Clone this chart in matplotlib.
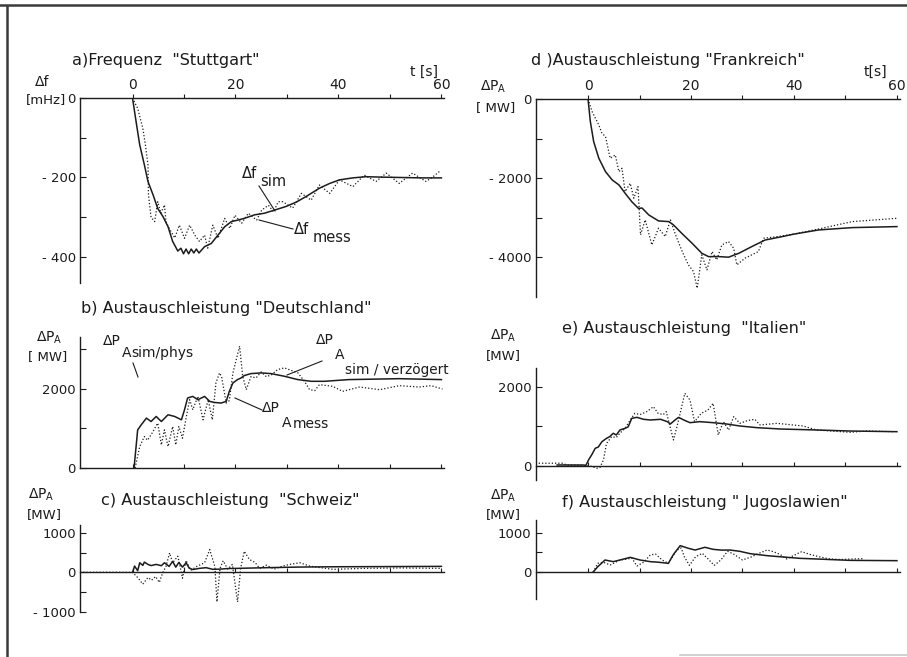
import matplotlib
matplotlib.use('Agg')
import matplotlib.pyplot as plt
from matplotlib.lines import Line2D

W, H = 907, 657
INK = '#1c1c1c'

# a) Frequenz "Stuttgart"  (mHz)
a_sim_t = [0, 0.7, 1.4, 2.3, 3.0, 4.0, 4.9, 5.9, 6.9, 7.8, 8.8, 9.4, 9.9, 10.4, 10.9, 11.4, 11.9, 12.4, 12.9,
           14.0, 15.3, 16.6, 17.9, 19.2, 20.5, 21.7, 23.7, 25.6, 27.6, 29.8, 31.8, 33.7, 36.3, 38.3, 40.2, 42.8,
           45.4, 48, 52, 56, 60]
a_sim = [0, -60, -118, -168, -210, -244, -278, -298, -324, -361, -385, -378, -392, -380, -392, -380, -390, -380,
         -390, -374, -366, -345, -324, -311, -307, -303, -294, -290, -282, -273, -262, -248, -227, -215, -206,
         -201, -198, -199, -200, -201, -201]
a_mess_t = [0, 1.0, 2.0, 2.5, 3.0, 3.1, 3.6, 4.3, 4.9, 5.5, 6.2, 6.5, 7.2, 8.2, 9.1, 10.1, 11.1, 12.1, 13.0, 14.0,
            14.6, 15.6, 16.6, 17.9, 18.9, 19.9, 21.2, 22.5, 24.1, 25.1, 26.4, 27.4, 28.3, 29.2, 31.1, 32.8, 34.7,
            36.3, 38.3, 40.2, 42.8, 45.0, 47.3, 49.3, 51.8, 54.4, 57.0, 58.2, 59.6]
a_mess = [0, -26, -76, -118, -168, -244, -300, -311, -261, -290, -269, -311, -330, -352, -320, -353, -320, -345,
          -361, -345, -378, -320, -353, -303, -328, -295, -315, -290, -307, -282, -270, -286, -261, -261, -277,
          -240, -257, -219, -240, -206, -223, -194, -210, -189, -215, -189, -210, -200, -185]

# b) Austauschleistung "Deutschland"  (MW)
b_sim_t = [0.3, 1.0, 1.7, 2.7, 3.6, 4.6, 5.6, 6.9, 8.2, 9.5, 10.1, 10.7, 11.7, 12.7, 14.0, 15.0, 15.9, 17.2, 18.2,
           18.8, 19.5, 20.4, 21.1, 21.7, 23.0, 25.0, 26.9, 29.5, 32.1, 34.7, 37.3, 42, 51.8, 60]
b_sim = [0, 961, 1088, 1257, 1171, 1298, 1171, 1341, 1298, 1214, 1467, 1763, 1804, 1720, 1804, 1678, 1652, 1636,
         1678, 1930, 2143, 2227, 2270, 2328, 2378, 2395, 2378, 2311, 2227, 2184, 2184, 2227, 2250, 2227]
b_mess_t = [0.5, 1.4, 2.3, 2.9, 3.6, 4.9, 5.6, 6.2, 6.9, 7.8, 8.4, 9.0, 9.7, 10.4, 11.1, 11.7, 12.7, 13.7, 14.7,
            15.5, 16.2, 16.9, 17.3, 18.2, 18.8, 19.5, 20.8, 21.4, 22.1, 23.0, 24.0, 25.0, 26.0, 27.0, 28.2, 29.5,
            30.8, 32.1, 33.4, 34.4, 35.4, 36.3, 38.9, 40.8, 44.1, 48.0, 51.8, 55.7, 58.0, 60.2]
b_mess = [0, 540, 793, 700, 835, 1130, 582, 961, 540, 1045, 582, 1045, 750, 1257, 1720, 1467, 1804, 1214, 1720,
          1214, 2143, 2396, 2300, 1636, 1700, 2396, 3069, 2311, 1973, 2300, 2270, 2420, 2300, 2350, 2480, 2522,
          2460, 2400, 2184, 1973, 1950, 2100, 2057, 1930, 2040, 1973, 2074, 2040, 2074, 1990]

# c) Austauschleistung "Schweiz"  (MW)
c_sim_t = [0, 0.4, 1.0, 1.4, 2.0, 2.3, 3.0, 3.6, 4.6, 5.6, 6.2, 7.1, 7.8, 8.4, 9.0, 9.7, 10.4, 11.0, 11.7, 13.0,
           14.3, 15.6, 16.9, 18.5, 20.5, 26.0, 32.5, 39.0, 50, 60]
c_sim = [0, 158, 40, 242, 175, 258, 200, 170, 200, 167, 242, 150, 275, 130, 250, 130, 242, 108, 70, 100, 117, 75,
         80, 95, 100, 117, 133, 140, 145, 150]
c_mess_t = [-10.2, -0.5, 0, 1.0, 2.0, 3.0, 3.7, 4.5, 5.2, 5.9, 6.5, 7.2, 7.8, 8.8, 9.4, 9.7, 10.4, 11.3, 12.5,
            14.0, 15.0, 16.0, 16.4, 17.0, 17.6, 18.5, 19.4, 20.4, 21.0, 21.7, 22.7, 23.8, 24.7, 26.0, 27.5, 29.0,
            30.5, 32.5, 34.4, 36.3, 39.0, 45, 52, 60]
c_mess = [0, 0, 0, -133, -300, -133, -200, -108, -258, 0, 150, 492, 242, 408, 50, -150, 300, 50, 150, 242, 575,
          140, -750, 100, 292, 80, 200, -750, 100, 533, 325, 250, 100, 180, 80, 150, 200, 242, 158, 120, 75, 100,
          110, 100]

# d) Austauschleistung "Frankreich"  (MW)
d_sim_t = [0, 0.45, 1.1, 2.1, 3.4, 4.7, 6.0, 7.2, 8.5, 9.8, 10.5, 11.8, 13.7, 15.7, 16.6, 18.2, 20.2, 22.1, 23.4,
           25.4, 27.3, 29.3, 31.8, 34.4, 37.7, 40, 44.8, 51.3, 60]
d_sim = [0, -570, -1080, -1500, -1840, -2050, -2175, -2385, -2600, -2770, -2760, -2935, -3087, -3104, -3188, -3400,
         -3650, -3905, -3990, -3990, -4005, -3905, -3737, -3570, -3484, -3420, -3315, -3256, -3230]
d_mess_t = [0, 0.8, 2.1, 2.7, 3.4, 4.3, 5.3, 6.0, 6.6, 7.2, 8.2, 8.9, 9.7, 10.2, 11.1, 12.4, 13.7, 15.0, 16.0, 17.0,
            18.3, 19.5, 20.5, 21.2, 22.1, 23.1, 24.1, 25.0, 26.0, 27.3, 28.3, 28.9, 30.5, 33.1, 34.1, 37, 40, 44.8,
            51.3, 60]
d_mess = [0, -320, -658, -868, -950, -1500, -1417, -1840, -1754, -2345, -2133, -2512, -2218, -3440, -3060, -3694,
          -3270, -3483, -3060, -3440, -3862, -4200, -4370, -4790, -3946, -4326, -3862, -4073, -3694, -3610, -3778,
          -4200, -4030, -3862, -3525, -3480, -3420, -3290, -3105, -3020]

# e) Austauschleistung "Italien"  (MW)
e_sim_t = [-6, -1, -0.4, 0.1, 0.7, 1.4, 2.0, 2.7, 3.6, 4.2, 4.9, 5.5, 6.2, 7.2, 7.8, 8.5, 9.5, 10.8, 12.1, 14.1,
           15.4, 16.0, 16.9, 17.6, 18.6, 19.8, 21.7, 24.3, 26.9, 29.5, 32.8, 37.3, 44.4, 50.9, 60]
e_sim = [25, 25, 17, 152, 278, 447, 480, 615, 700, 742, 827, 784, 911, 953, 990, 1206, 1231, 1181, 1164, 1181,
         1122, 1063, 1164, 1231, 1164, 1096, 1122, 1096, 1063, 1012, 970, 936, 911, 885, 868]
e_mess_t = [-10.2, -5, -4, 0.4, 1.7, 2.3, 3.0, 3.6, 4.6, 5.5, 6.2, 7.2, 8.2, 9.1, 10.1, 11.4, 12.7, 13.6, 14.6,
            15.2, 15.9, 16.6, 17.6, 18.8, 19.8, 20.7, 22.0, 23.3, 24.3, 25.3, 26.3, 27.3, 28.3, 29.5, 31, 32.4,
            33.4, 35.4, 36.7, 37.9, 41.8, 44.4, 50.9, 54.1, 59.6]
e_mess = [70, 70, 20, 0, -58, -40, 152, 573, 742, 720, 830, 953, 1164, 1333, 1300, 1375, 1501, 1333, 1300, 1375,
          1012, 658, 1164, 1839, 1670, 1122, 1333, 1417, 1586, 784, 1122, 911, 1249, 1080, 1150, 1181, 1038, 1063,
          1080, 1063, 1012, 911, 852, 885, 868]

# f) Austauschleistung "Jugoslawien"  (MW)
f_sim_t = [1.0, 1.9, 3.3, 4.9, 6.2, 8.2, 10.1, 12.1, 13.7, 15.6, 16.6, 17.9, 19.5, 20.8, 22.7, 24.3, 25.9, 27.6,
           29.5, 31.5, 34.8, 37.9, 41.1, 44.4, 47.7, 50.9, 60]
f_sim = [0, 136, 307, 265, 307, 375, 307, 265, 250, 222, 450, 674, 606, 562, 632, 580, 560, 562, 529, 469, 418,
         384, 350, 333, 315, 298, 290]
f_mess_t = [1.0, 1.9, 3.0, 4.3, 6.2, 7.6, 8.5, 9.5, 10.8, 12.1, 13.1, 14.4, 15.6, 17.2, 18.1, 18.7, 19.7, 20.9,
            22.2, 23.2, 24.5, 25.8, 27.1, 28.4, 30.0, 31.6, 33.2, 34.8, 36, 37.3, 38.6, 39.9, 41.5, 43.1, 45.1,
            47.0, 49.0, 50.9, 53.5]
f_mess = [0, 222, 250, 180, 307, 330, 358, 153, 250, 435, 460, 307, 222, 555, 614, 392, 170, 392, 478, 350, 170,
          307, 529, 450, 307, 380, 478, 563, 520, 450, 333, 420, 521, 450, 384, 333, 320, 330, 342]

plt.rcParams['font.family'] = ['DejaVu Sans']
plt.rcParams['mathtext.fontset'] = 'dejavusans'
fig = plt.figure(figsize=(W / 100, H / 100), dpi=100)
fig.patch.set_facecolor('white')


def px_axes(x0, y0, x1, y1):
    return fig.add_axes([x0 / W, 1 - y1 / H, (x1 - x0) / W, (y1 - y0) / H])


def ftext(x, y, s, size=10, **kw):
    fig.text(x / W, 1 - y / H, s, fontsize=size, color=INK, va='center', ha='left', **kw)


def fline(x0, y0, x1, y1, lw=0.8, color=INK):
    fig.add_artist(Line2D([x0 / W, x1 / W], [1 - y0 / H, 1 - y1 / H], transform=fig.transFigure,
                          lw=lw, color=color))


def panel(rect, ylim, yticks, ylabels, top=False):
    ax = px_axes(*rect)
    ax.set_xlim(-10.2, 60.5)
    ax.set_ylim(*ylim)
    ax.spines['right'].set_visible(False)
    for s in ('left', 'top', 'bottom'):
        ax.spines[s].set_color(INK)
        ax.spines[s].set_linewidth(1.0)
    ax.set_yticks(yticks)
    ax.set_yticklabels(ylabels)
    ax.tick_params(axis='y', direction='in', length=4, width=0.8, pad=3, labelsize=9.5, colors=INK)
    ax.set_xticks(range(0, 61, 10))
    if top:
        ax.spines['bottom'].set_visible(False)
        ax.xaxis.set_ticks_position('top')
        ax.set_xticklabels(['0', '', '20', '', '40', '', '60'])
        ax.tick_params(axis='x', direction='out', length=3, width=0.8, pad=1.5, labelsize=10, colors=INK)
    else:
        ax.spines['top'].set_visible(False)
        ax.spines['bottom'].set_position(('data', 0))
        ax.tick_params(axis='x', direction='in', length=3, width=0.8, labelbottom=False, colors=INK)
    ax.patch.set_alpha(0)
    return ax


def curves(ax, ts, vs, tm, vm):
    ax.plot(tm, vm, color=INK, lw=0.9, linestyle=(0, (1, 1.6)))
    ax.plot(ts, vs, color=INK, lw=1.1)


# panel a
ax = panel((80, 98, 444, 282.8), (-465, 0), [0, -100, -200, -300, -400], ['0', '', '- 200', '', '- 400'], top=True)
curves(ax, a_sim_t, a_sim, a_mess_t, a_mess)
# panel b
ax = panel((80, 337, 444, 468), (0, 3300), [0, 1000, 2000, 3000], ['0', '', '2000', ''])
curves(ax, b_sim_t, b_sim, b_mess_t, b_mess)
# panel c
ax = panel((80, 525, 444, 611.7), (-1000, 1200), [-1000, -500, 0, 500, 1000], ['- 1000', '', '0', '', '1000'])
curves(ax, c_sim_t, c_sim, c_mess_t, c_mess)
# panel d
ax = panel((535.5, 99, 899.5, 296.5), (-5000, 0), [0, -1000, -2000, -3000, -4000],
           ['0', '', '- 2000', '', '- 4000'], top=True)
curves(ax, d_sim_t, d_sim, d_mess_t, d_mess)
# panel e
ax = panel((535.5, 368, 899.5, 480), (-355, 2480), [0, 1000, 2000], ['0', '', '2000'])
curves(ax, e_sim_t, e_sim, e_mess_t, e_mess)
# panel f
ax = panel((535.5, 520, 899.5, 599), (-690, 1330), [0, 500, 1000], ['0', '', '1000'])
curves(ax, f_sim_t, f_sim, f_mess_t, f_mess)

# titles
TS = 11.6
ftext(72, 60, 'a)Frequenz  "Stuttgart"', TS)
ftext(81, 308, 'b) Austauschleistung "Deutschland"', TS)
ftext(101, 500, 'c) Austauschleistung  "Schweiz"', TS)
ftext(531, 60, 'd )Austauschleistung "Frankreich"', TS)
ftext(562, 329, 'e) Austauschleistung  "Italien"', TS)
ftext(562, 502, 'f) Austauschleistung " Jugoslawien"', TS)

# axis units
ftext(410, 72, 't [s]', 10)
ftext(864, 72, 't[s]', 10)
ftext(35, 82, 'Δf', 10)
ftext(26, 100, '[mHz]', 9.5)
PA = r'$\Delta\mathrm{P}_{\mathrm{A}}$'
ftext(480, 87, PA, 10)
ftext(476, 108, '[ MW]', 9.5)
ftext(36, 338, PA, 10)
ftext(28, 357, '[ MW]', 9.5)
ftext(28, 495, PA, 10)
ftext(27, 515, '[MW]', 9.5)
ftext(490, 336, PA, 10)
ftext(486, 356, '[MW]', 9.5)
ftext(490, 496, PA, 10)
ftext(486, 515, '[MW]', 9.5)

# curve labels
ftext(242, 174, 'Δf', 10.5)
ftext(260, 181, 'sim', 10.5)
fline(259, 186, 275, 211)
ftext(294, 230, 'Δf', 10.5)
ftext(313, 237, 'mess', 10.5)
fline(259, 220, 293, 229)

ftext(103, 341, 'ΔP', 10)
ftext(122, 353, 'A', 10)
ftext(131, 353, 'sim/phys', 10)
fline(133, 363, 138, 377)
ftext(316, 340, 'ΔP', 10)
ftext(335, 355, 'A', 10)
ftext(345, 370, 'sim / verzögert', 9.8)
fline(287, 375, 322, 361)
ftext(262, 408, 'ΔP', 10)
ftext(282, 423, 'A', 10)
ftext(293, 424, 'mess', 10)
fline(235, 398, 262, 410)

# scan frame
fline(0, 4.5, W, 4.5, lw=1.8, color='#3a3a3a')
fline(7, 6, 7, H, lw=1.8, color='#3a3a3a')
fline(680, 655, W, 655, lw=1.2, color='#c8c8c8')

fig.savefig('out.png', dpi=100, facecolor='white')
